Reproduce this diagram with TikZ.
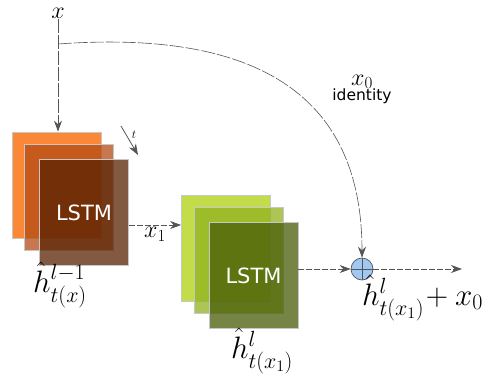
\RequirePackage{fix-cm}
\documentclass[tikz,border=0pt]{standalone}
\usepackage{amsmath,amssymb}
\usepackage[no-math]{fontspec}
\setsansfont{DejaVu Sans}
\usetikzlibrary{arrows.meta,positioning,calc}
\DeclareMathSizes{31}{31}{22}{16}
\DeclareMathSizes{24}{24}{17}{12}
\definecolor{OrangeA}{RGB}{250,136,55}
\definecolor{OrangeB}{RGB}{181,75,21}
\definecolor{BrownC}{RGB}{88,35,2}
\definecolor{GreenD}{RGB}{194,220,74}
\definecolor{GreenE}{RGB}{145,178,30}
\definecolor{OliveF}{RGB}{72,92,8}
\definecolor{LineGray}{RGB}{85,85,85}
\definecolor{SumBlue}{RGB}{160,200,240}

\begin{document}
\begin{tikzpicture}[
      x=1pt,y=-1pt,
      layer/.style={draw=black!22,line width=0.8pt,minimum width=89pt,minimum height=106pt,
                    inner sep=0pt,fill opacity=0.75,text opacity=1,
                    font=\sffamily\fontsize{21}{24}\selectfont,text=white},
      ar/.style={-{Stealth[length=11pt,width=8pt]},line width=0.8pt,color=LineGray},
      dsh/.style={dash pattern=on 6pt off 2pt},
      lng/.style={dash pattern=on 14pt off 2pt},
      mlab/.style={font=\fontsize{31}{34}\selectfont,text=black,inner sep=1pt},
      slab/.style={font=\fontsize{24}{26}\selectfont,text=black,inner sep=1pt},
      sum/.style={circle,draw=LineGray,line width=0.7pt,fill=SumBlue,minimum size=22pt,inner sep=0pt,
                  path picture={\draw[LineGray,line width=0.6pt]
                    (path picture bounding box.north) -- (path picture bounding box.south)
                    (path picture bounding box.west) -- (path picture bounding box.east);}}
    ]
    \useasboundingbox (0,0) rectangle (482,378);

    % first LSTM stack
    \node(a1)[layer,fill=OrangeA,fill opacity=1] at (56.5,185) {};
    \node(a2)[layer,fill=OrangeB] at (69,197) {};
    \node(a3)[layer,fill=BrownC] at (84,212.5) {LSTM};

    % second LSTM stack
    \node(b1)[layer,fill=GreenD,fill opacity=1] at (226,248.5) {};
    \node(b2)[layer,fill=GreenE] at (238.5,260) {};
    \node(b3)[layer,fill=OliveF] at (253.5,275.5) {LSTM};

    % sum node and free ends
    \node(sum)[sum] at (362,269) {};
    \node(in)[slab] at (58,13) {$x$};
    \coordinate(split) at (58,44);
    \coordinate(out) at (462,269);
    \coordinate(t0) at (121,126);
    \coordinate(t1) at (138,155);

    % input and time arrows
    \draw[ar,lng] (in.south) -- (a1.north-|in);
    \draw[ar] (t0) -- node[pos=0.3,right=2pt,font=\fontsize{12}{13}\selectfont,text=black]{$t$} (t1);

    % identity shortcut
    \draw[ar,lng,line width=0.6pt] (split) .. controls (250,30) and (362,90) .. (sum.north);
    \node(x0)[slab] at (362,82) {$x_0$};
    \node(id)[below=-3pt of x0,font=\sffamily\fontsize{15.5}{17}\selectfont,inner sep=1pt] {identity};

    % main path
    \draw[ar,dsh] (a3.east|-0,225) -- node[below=1pt,slab]{$x_1$} (b1.west|-0,225);
    \draw[ar,dsh] (b3.east|-sum) -- (sum.west);
    \draw[ar,dsh] (sum.east) -- (out);

    % output labels
    \node(h1)[mlab,anchor=base] at (60,292) {$\hat{h}^{l-1}_{t(x)}$};
    \node(h2)[mlab,anchor=base] at (262,358) {$\hat{h}^{l}_{t(x_1)}$};
    \node(h3)[mlab,anchor=base west] at (361,305) {$\hat{h}^{l}_{t(x_1)}\!+x_0$};
  \end{tikzpicture}
\end{document}
